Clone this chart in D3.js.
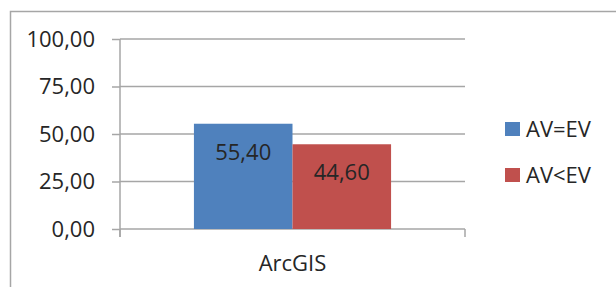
<!DOCTYPE html>
<html>
<head>
<meta charset="utf-8">
<script src="https://cdn.jsdelivr.net/npm/d3@7"></script>
<style>
	body { margin: 0; background: #fff; }
	text { font-family: "Open Sans", sans-serif; fill: #262626; }
</style>
</head>
<body>
<div id="chart"></div>
<script>

// data
let categories = ["ArcGIS"];
let seriesNames = ["AV=EV", "AV<EV"];
let seriesValues = [55.40, 44.60];
let seriesColors = ["#4F81BD", "#C0504D"];
let yTicks = [0, 25, 50, 75, 100];

class GroupedBarVis {

	constructor(parentElement) {
		this.parentElement = parentElement;
		this.initVis();
	}

	initVis() {
		let vis = this;

		vis.margin = { top: 39, right: 151, bottom: 58, left: 120 };
		vis.width = 616 - vis.margin.left - vis.margin.right;
		vis.height = 287 - vis.margin.top - vis.margin.bottom;

		let root = d3.select(vis.parentElement).append("svg")
			.attr("width", 616)
			.attr("height", 287);

		// outer chart frame (right and bottom edges are off the picture)
		root.append("path")
			.attr("d", "M10.5,300 L10.5,11.5 L630,11.5")
			.attr("fill", "none")
			.attr("stroke", "#a6a6a6")
			.attr("stroke-width", 1.5);

		vis.svg = root.append("g")
			.attr("transform", "translate(" + vis.margin.left + "," + vis.margin.top + ")");

		vis.x0 = d3.scaleBand()
			.domain(categories)
			.range([0, vis.width]);

		// gap width 150% -> each bar is band / 3.5
		vis.x1 = d3.scaleBand()
			.domain(seriesNames)
			.range([0, vis.x0.bandwidth()])
			.paddingOuter(0.75)
			.paddingInner(0);

		vis.y = d3.scaleLinear()
			.domain([0, 100])
			.range([vis.height, 0]);

		vis.drawAxes();
		vis.drawBars();
		vis.drawLegend();
	}

	drawAxes() {
		let vis = this;

		// gridlines
		vis.svg.append("g")
			.attr("class", "grid")
			.selectAll("line")
			.data(yTicks)
			.enter()
			.append("line")
			.attr("x1", 0)
			.attr("x2", vis.width)
			.attr("y1", d => vis.y(d))
			.attr("y2", d => vis.y(d))
			.attr("stroke", "#a6a6a6")
			.attr("stroke-width", 1.5);

		let fmt = d => d3.format(".2f")(d).replace(".", ",");

		let yAxis = d3.axisLeft(vis.y)
			.tickValues(yTicks)
			.tickFormat(fmt)
			.tickSize(8)
			.tickPadding(17);

		let gy = vis.svg.append("g").attr("class", "y-axis").call(yAxis);
		gy.select(".domain").remove();
		gy.selectAll("line").attr("stroke", "#a6a6a6").attr("stroke-width", 1.5);
		gy.selectAll("text")
			.style("font-size", "22px")
			.attr("fill", "#262626")
			.style("font-family", "'Open Sans', sans-serif");

		// vertical axis line
		vis.svg.append("line")
			.attr("x1", 0).attr("x2", 0)
			.attr("y1", 0).attr("y2", vis.height + 8)
			.attr("stroke", "#a6a6a6")
			.attr("stroke-width", 1.5);

		// category boundary ticks on x axis
		vis.svg.append("g")
			.selectAll("line")
			.data([0, vis.width])
			.enter()
			.append("line")
			.attr("x1", d => d).attr("x2", d => d)
			.attr("y1", vis.height).attr("y2", vis.height + 8)
			.attr("stroke", "#a6a6a6")
			.attr("stroke-width", 1.5);

		vis.svg.selectAll(".cat-label")
			.data(categories)
			.enter()
			.append("text")
			.attr("class", "cat-label")
			.attr("x", d => vis.x0(d) + vis.x0.bandwidth() / 2)
			.attr("y", vis.height + 42)
			.attr("text-anchor", "middle")
			.style("font-size", "22px")
			.text(d => d);
	}

	drawBars() {
		let vis = this;
		let barData = seriesNames.map((s, i) => ({ key: s, value: seriesValues[i], color: seriesColors[i] }));

		let g = vis.svg.append("g")
			.attr("transform", "translate(" + vis.x0(categories[0]) + ",0)");

		g.selectAll("rect")
			.data(barData)
			.enter()
			.append("rect")
			.attr("x", d => vis.x1(d.key))
			.attr("y", d => vis.y(d.value))
			.attr("width", vis.x1.bandwidth())
			.attr("height", d => vis.height - vis.y(d.value))
			.attr("fill", d => d.color);

		g.selectAll(".bar_label")
			.data(barData)
			.enter()
			.append("text")
			.attr("class", "bar_label")
			.attr("x", d => vis.x1(d.key) + vis.x1.bandwidth() / 2)
			.attr("y", d => vis.y(d.value) + 36)
			.attr("text-anchor", "middle")
			.style("font-size", "22px")
			.text(d => d.value.toFixed(2).replace(".", ","));
	}

	drawLegend() {
		let vis = this;
		let legend = d3.select(vis.parentElement).select("svg").append("g")
			.attr("transform", "translate(505,122)");

		let items = legend.selectAll("g")
			.data(seriesNames)
			.enter()
			.append("g")
			.attr("transform", (d, i) => "translate(0," + (i * 46) + ")");

		items.append("rect")
			.attr("width", 15)
			.attr("height", 14)
			.attr("fill", (d, i) => seriesColors[i]);

		items.append("text")
			.attr("x", 21)
			.attr("y", 15)
			.style("font-size", "22px")
			.text(d => d);
	}
}

new GroupedBarVis(document.getElementById("chart"));
</script>
</body>
</html>
